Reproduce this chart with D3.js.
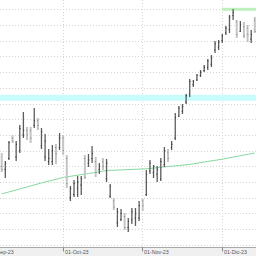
<!DOCTYPE html>
<html>
<head>
<meta charset="utf-8">
<script src="https://cdn.jsdelivr.net/npm/d3@7"></script>
<style>
  html, body { margin: 0; padding: 0; background: #fff; }
  svg { display: block; font-family: "Liberation Sans", Arial, sans-serif; }
</style>
</head>
<body>
<svg id="chart" width="256" height="256"></svg>
<script>
const width = 256;
const height = 256;
const axisTop = 247.5;

// trading days, Sep 7 to Dec 14 2023 (weekdays)
const firstDay = '2023-09-07';
const lastDay = '2023-12-14';

const highs = [
  168.5, 163.4, 176.1, 179.9, 176.1, 186.3, 194.6, 185.0, 185.0, 197.1,
  190.8, 184.4, 180.6, 171.0, 173.6, 174.2, 181.2, 179.9, 167.2, 147.5,
  151.3, 153.8, 153.8, 167.2, 167.8, 172.9, 165.9, 162.1, 165.3, 164.7,
  148.7, 139.8, 133.4, 132.8, 130.3, 127.1, 133.4, 133.4, 137.9, 139.2,
  157.6, 164.0, 160.8, 160.2, 165.3, 172.3, 171.0, 176.1, 193.9, 198.4,
  199.7, 206.1, 215.6, 215.0, 218.8, 221.3, 224.5, 228.3, 230.9, 239.8,
  240.4, 244.3, 249.4, 256.4, 260.2, 253.2, 252.5, 251.9, 250.0, 246.8,
  255.1
];
const lows = [
  156.4, 152.6, 164.0, 174.8, 163.4, 168.5, 178.0, 176.8, 174.8, 184.4,
  183.1, 171.0, 163.4, 160.8, 160.8, 161.5, 170.4, 167.2, 146.2, 137.9,
  140.5, 140.5, 141.7, 151.9, 159.6, 162.1, 153.2, 155.1, 157.6, 150.0,
  139.8, 132.2, 121.3, 125.2, 119.4, 118.2, 123.3, 122.0, 125.2, 131.5,
  141.1, 155.1, 152.6, 150.0, 150.6, 159.6, 162.7, 170.4, 176.8, 191.4,
  193.3, 199.7, 204.1, 210.5, 214.3, 216.9, 220.1, 221.3, 223.3, 232.2,
  234.1, 238.5, 243.6, 244.9, 253.2, 241.7, 245.5, 241.7, 239.2, 238.5,
  244.9
];
const opens = [
  160, 158, 165, 178, 166, 170, 180, 183, 183, 186,
  189, 173, 166, 163, 163, 172, 172, 178, 165, 140,
  142, 146, 148, 165, 162, 165, 163, 158, 163, 152,
  141, 138, 124, 126, 128, 121, 126, 127, 127, 138,
  142, 157, 156, 155, 152, 161, 169, 172, 178, 192,
  195, 201, 206, 212, 215, 218, 221, 223, 225, 234,
  236, 240, 245, 247, 256, 252, 246, 249, 248, 241,
  253
];
const closes = [
  158, 162, 175, 176, 174, 184, 183, 180, 178, 189,
  186, 182, 176, 165, 170, 168, 178, 170, 149, 146,
  149, 150, 152, 153, 164, 168, 156, 160, 160, 162,
  147, 134, 131, 130, 121, 125, 131, 130, 135, 135,
  155, 162, 160, 158, 163, 170, 165, 174, 191, 197,
  198, 205, 214, 214, 218, 220, 223, 227, 229, 238,
  239, 243, 248, 255, 258, 244, 250, 243, 244, 244,
  246
];

// moving average read at a few bars: [bar index, value]
const maIndex = [0, 11, 17, 24, 29, 36, 40, 45, 52, 57, 61, 70];
const maValue = [142.4, 149.4, 152.9, 155.4, 157.3, 158.0, 158.4, 159.6, 161.2, 163.1, 164.5, 168.5];

const supportZone = [201.7, 205.5];
const resistanceLevel = 260.0;
const resistanceFrom = '2023-12-01';

const priceTicks = d3.range(110, 261, 10);
const monthDates = ['2023-09-01', '2023-10-02', '2023-11-01', '2023-12-01'];
const monthLabels = ['01-Sep-23', '01-Oct-23', '01-Nov-23', '01-Dic-23'];

const parse = d3.utcParse('%Y-%m-%d');
const isWeekday = (d) => d.getUTCDay() !== 0 && d.getUTCDay() !== 6;
const days = d3.utcDays(parse(firstDay), d3.utcDay.offset(parse(lastDay), 1)).filter(isWeekday);

function tradingIndex(str) {
  const d = parse(str);
  if (d >= days[0]) return days.findIndex((t) => t >= d);
  return -d3.utcDays(d, days[0]).filter(isWeekday).length;
}

const bars = days.map((d, i) => ({
  date: d,
  i,
  open: opens[i],
  high: highs[i],
  low: lows[i],
  close: closes[i],
}));

const x = d3.scaleLinear().domain([0, days.length - 1]).range([1.7, 254.8]);
const y = d3.scaleLinear().domain([110, 260]).range([244.8, 9.3]);

const svg = d3.select('#chart');
const plot = svg.append('g');

plot.append('defs').append('clipPath').attr('id', 'plot-clip')
  .append('rect').attr('x', 0).attr('y', 0).attr('width', width).attr('height', axisTop);

// horizontal grid
plot.append('g')
  .selectAll('line')
  .data(priceTicks)
  .join('line')
  .attr('x1', 0)
  .attr('x2', width)
  .attr('y1', (d) => Math.round(y(d)) + 0.5)
  .attr('y2', (d) => Math.round(y(d)) + 0.5)
  .attr('stroke', '#d4d4d4')
  .attr('stroke-dasharray', '1,2');

// vertical month grid
const monthX = monthDates.map((d) => Math.round(x(tradingIndex(d)) - 0.5) + 0.5);
plot.append('g')
  .selectAll('line')
  .data(monthX)
  .join('line')
  .attr('x1', (d) => d)
  .attr('x2', (d) => d)
  .attr('y1', 0)
  .attr('y2', axisTop)
  .attr('stroke', '#d4d4d4')
  .attr('stroke-dasharray', '1,2');

// support zone (cyan band)
plot.append('rect')
  .attr('x', 0)
  .attr('width', width)
  .attr('y', y(supportZone[1]))
  .attr('height', y(supportZone[0]) - y(supportZone[1]))
  .attr('fill', '#c8fcfc');

// resistance (green band)
const resX = x(tradingIndex(resistanceFrom)) - 0.5;
plot.append('rect')
  .attr('x', resX)
  .attr('width', width - resX)
  .attr('y', y(resistanceLevel) - 1.5)
  .attr('height', 3)
  .attr('fill', '#bdf0bd');

// moving average
plot.append('path')
  .datum(maIndex.map((d, k) => [d, maValue[k]]))
  .attr('fill', 'none')
  .attr('stroke', '#86d9a2')
  .attr('stroke-width', 1)
  .attr('d', d3.line().x((d) => x(d[0])).y((d) => y(d[1])));

// OHLC bars
const isDown = (d) => d.close < d.open;
const barG = plot.append('g').attr('clip-path', 'url(#plot-clip)')
  .selectAll('g')
  .data(bars)
  .join('g');

barG.append('line')
  .attr('x1', (d) => x(d.i))
  .attr('x2', (d) => x(d.i))
  .attr('y1', (d) => y(d.high))
  .attr('y2', (d) => y(d.low))
  .attr('stroke', (d) => (isDown(d) ? '#c4c4c4' : '#5c5c5c'))
  .attr('stroke-width', (d) => (isDown(d) ? 2 : 1.3));

barG.append('line')
  .attr('x1', (d) => x(d.i) - 0.8)
  .attr('x2', (d) => x(d.i) + 0.2)
  .attr('y1', (d) => y(d.open))
  .attr('y2', (d) => y(d.open))
  .attr('stroke', (d) => (isDown(d) ? '#888' : '#333'))
  .attr('stroke-width', 1);

barG.append('line')
  .attr('x1', (d) => x(d.i) - 0.2)
  .attr('x2', (d) => x(d.i) + 0.8)
  .attr('y1', (d) => y(d.close))
  .attr('y2', (d) => y(d.close))
  .attr('stroke', (d) => (isDown(d) ? '#888' : '#333'))
  .attr('stroke-width', 1);

// x axis band
const axisG = svg.append('g');
axisG.append('rect')
  .attr('x', 0)
  .attr('y', axisTop)
  .attr('width', width)
  .attr('height', height - axisTop)
  .attr('fill', '#f0f0f0');
axisG.append('line')
  .attr('x1', 0)
  .attr('x2', width)
  .attr('y1', axisTop)
  .attr('y2', axisTop)
  .attr('stroke', '#a8a8a8');

axisG.selectAll('.tick')
  .data(monthX)
  .join('line')
  .attr('class', 'tick')
  .attr('x1', (d) => d)
  .attr('x2', (d) => d)
  .attr('y1', axisTop)
  .attr('y2', axisTop + 4)
  .attr('stroke', '#888');

axisG.selectAll('text')
  .data(monthLabels)
  .join('text')
  .attr('x', (d, k) => monthX[k] + 1.5)
  .attr('y', 254.3)
  .attr('font-size', 5.3)
  .attr('fill', '#555')
  .text((d) => d);
</script>
</body>
</html>
